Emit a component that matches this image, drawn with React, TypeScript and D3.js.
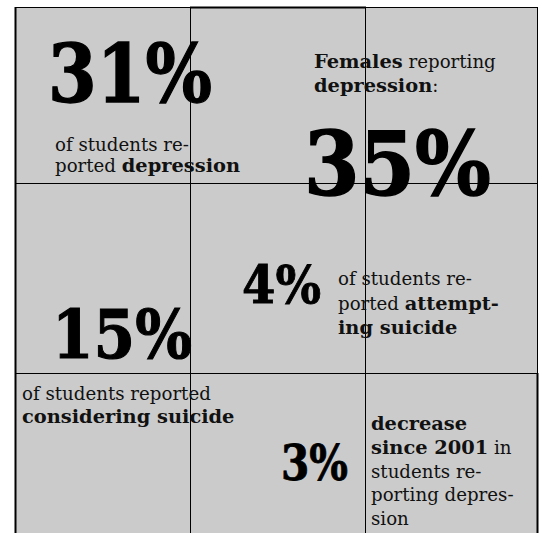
import React from "react";
import * as d3 from "d3";

// ---- data ----
const statValues = ["31%", "35%", "4%", "15%", "3%"];
const statCaptions: { text: string; bold: boolean }[][][] = [
  [
    [{ text: "of students re-", bold: false }],
    [{ text: "ported ", bold: false }, { text: "depression", bold: true }],
  ],
  [
    [{ text: "Females", bold: true }, { text: " reporting", bold: false }],
    [{ text: "depression", bold: true }, { text: ":", bold: false }],
  ],
  [
    [{ text: "of students re-", bold: false }],
    [{ text: "ported ", bold: false }, { text: "attempt-", bold: true }],
    [{ text: "ing suicide", bold: true }],
  ],
  [
    [{ text: "of students reported", bold: false }],
    [{ text: "considering suicide", bold: true }],
  ],
  [
    [{ text: "decrease", bold: true }],
    [{ text: "since 2001", bold: true }, { text: " in", bold: false }],
    [{ text: "students re-", bold: false }],
    [{ text: "porting depres-", bold: false }],
    [{ text: "sion", bold: false }],
  ],
];
const gridCols = [0, 1, 2, 3];
const gridRows = [0, 1, 2, 3];

// ---- layout (positions / styles) ----
const W = 542;
const H = 533;
const xScale = d3.scaleLinear().domain([0, 1, 2, 3]).range([15, 190, 365, 537]);
const yScale = d3.scaleLinear().domain([0, 1, 2, 3]).range([7, 183, 373, 540]);

// number: x, baseline y, font size, target width
const numLayout = [
  { x: 48, y: 102, size: 80, w: 164 },
  { x: 304, y: 195, size: 88, w: 187 },
  { x: 242, y: 303, size: 52, w: 79 },
  { x: 52, y: 358, size: 67, w: 140 },
  { x: 281, y: 480, size: 49, w: 67 },
];
// caption: x, first baseline, line step
const capLayout = [
  { x: 55, y: 151, dy: 21 },
  { x: 314, y: 68, dy: 24 },
  { x: 338, y: 285, dy: 24.5 },
  { x: 22, y: 400, dy: 23 },
  { x: 371, y: 430, dy: 23.8 },
];

const FONT = "'DejaVu Serif', Georgia, serif";
const REG_SIZE = 18.2;
const BOLD_SIZE = 19.4;

export default function App() {
  const x0 = xScale(gridCols[0]);
  const x3 = xScale(gridCols[3]);
  const y0 = yScale(gridRows[0]);
  const y3 = yScale(gridRows[3]);
  return (
    <svg
      width={W}
      height={H}
      style={{ position: "absolute", left: 0, top: 0, background: "#fff" }}
    >
      <rect x={x0} y={y0} width={x3 - x0} height={y3 - y0} fill="#cbcbcb" />
      {/* vertical lines */}
      {gridCols.map((c) => (
        <line
          key={"v" + c}
          x1={Math.round(xScale(c)) + 0.5}
          x2={Math.round(xScale(c)) + 0.5}
          y1={y0}
          y2={y3}
          stroke="#000"
          strokeWidth={c === 0 ? 2 : 1}
        />
      ))}
      {/* horizontal lines */}
      {gridRows.slice(0, 3).map((r) => (
        <line
          key={"h" + r}
          x1={x0}
          x2={x3}
          y1={Math.round(yScale(r)) + 0.5}
          y2={Math.round(yScale(r)) + 0.5}
          stroke="#000"
          strokeWidth={1}
        />
      ))}
      {/* thicker top edge of middle column and lower right edge */}
      <line
        x1={xScale(1)}
        x2={xScale(2) + 1}
        y1={yScale(0) + 0.5}
        y2={yScale(0) + 0.5}
        stroke="#000"
        strokeWidth={2}
      />
      <line
        x1={xScale(3) + 0.5}
        x2={xScale(3) + 0.5}
        y1={yScale(2)}
        y2={y3}
        stroke="#000"
        strokeWidth={2}
      />
      {/* big numbers */}
      {statValues.map((v, i) => {
        const L = numLayout[i];
        return (
          <text
            key={"n" + i}
            x={L.x}
            y={L.y}
            fontFamily={FONT}
            fontWeight="bold"
            fontSize={L.size}
            textLength={L.w}
            lengthAdjust="spacingAndGlyphs"
            fill="#000"
            stroke="#000"
            strokeWidth={L.size / 60}
          >
            {v}
          </text>
        );
      })}
      {/* captions */}
      {statCaptions.map((lines, i) => {
        const L = capLayout[i];
        return (
          <text key={"c" + i} fontFamily={FONT} fontSize={REG_SIZE} fill="#111">
            {lines.map((segs, j) => (
              <tspan key={j} x={L.x} y={L.y + j * L.dy}>
                {segs.map((s, k) => (
                  <tspan
                    key={k}
                    fontWeight={s.bold ? "bold" : "normal"}
                    fontSize={s.bold ? BOLD_SIZE : REG_SIZE}
                  >
                    {s.text}
                  </tspan>
                ))}
              </tspan>
            ))}
          </text>
        );
      })}
    </svg>
  );
}
